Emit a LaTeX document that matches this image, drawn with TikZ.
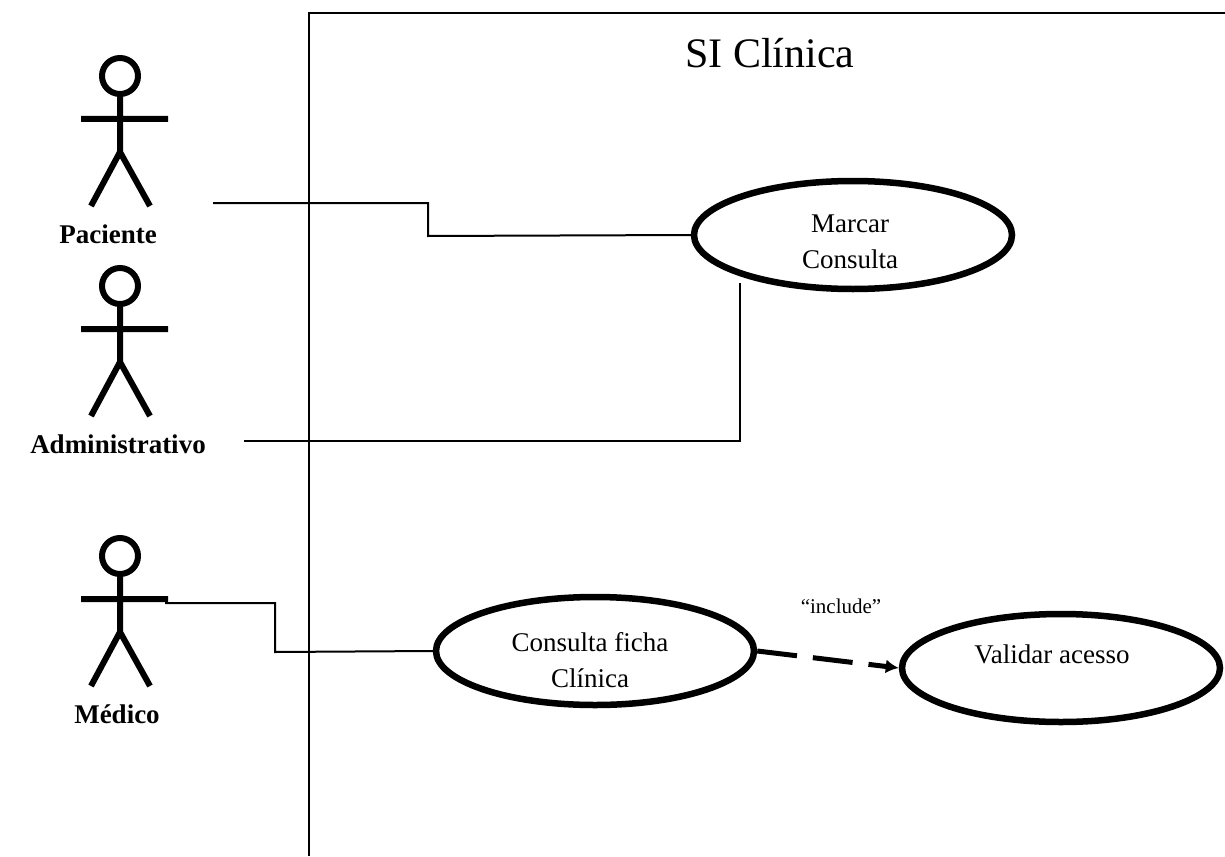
\documentclass[tikz,border=0pt]{standalone}
\usepackage{fontspec}
\setmainfont{Liberation Serif}
\usetikzlibrary{arrows.meta,shapes.geometric}
\begin{document}
\begin{tikzpicture}[x=1pt,y=-1pt,line join=miter,
  usecase/.style={draw,ellipse,line width=6.5pt,inner sep=0pt,minimum width=318pt,minimum height=108pt},
  actorline/.style={line width=6pt},
  wire/.style={line width=2pt},
  label/.style={font=\fontsize{27}{36}\selectfont,align=center},
  actorname/.style={font=\fontsize{27}{32}\selectfont\bfseries}]
\useasboundingbox (0,0) rectangle (1225,856);
% system boundary
\draw[wire] (309,856)--(309,13)--(1225,13);
\node[font=\fontsize{42}{48}\selectfont] (title) at (770,53) {SI Clínica};
% actors
\foreach \xa/\ya in {120/58, 120/268, 120/538}{
  \draw[actorline] (\xa,\ya+18) circle (18);
  \draw[actorline] (\xa,\ya+36)--(\xa,\ya+94) (\xa-39,\ya+61)--(\xa+48,\ya+61)
    (\xa-29,\ya+148)--(\xa,\ya+94)--(\xa+30,\ya+148);
}
\node[actorname] (paciente) at (108,234) {Paciente};
\node[actorname] (admin) at (118,444) {Administrativo};
\node[actorname] (medico) at (117,714) {Médico};
% use cases
\node[usecase] (marcar) at (853,235) {};
\node[label] (marcartxt) at (850,242) {Marcar\\Consulta};
\node[usecase] (ficha) at (595,651) {};
\node[label] (fichatxt) at (590,660) {Consulta ficha\\Clínica};
\node[usecase] (validar) at (1061,668) {};
\node[label] (validartxt) at (1052,654) {Validar acesso};
\node[font=\fontsize{21}{25}\selectfont] (include) at (841,606) {“include”};
% connectors
\coordinate (pacfim) at (213,203);
\coordinate (admfim) at (244,441);
\coordinate (medfim) at (165,603);
\draw[wire] (pacfim)-|(428,236)--(marcar.west);
\draw[wire] (admfim)-|(740,283);
\draw[wire] (medfim)-|(275,652)--(ficha.west);
\draw[line width=5pt,dash pattern=on 40pt off 16pt,-{Latex[length=13pt,width=14pt]}] (ficha.east)--(validar.west);
\end{tikzpicture}
\end{document}
